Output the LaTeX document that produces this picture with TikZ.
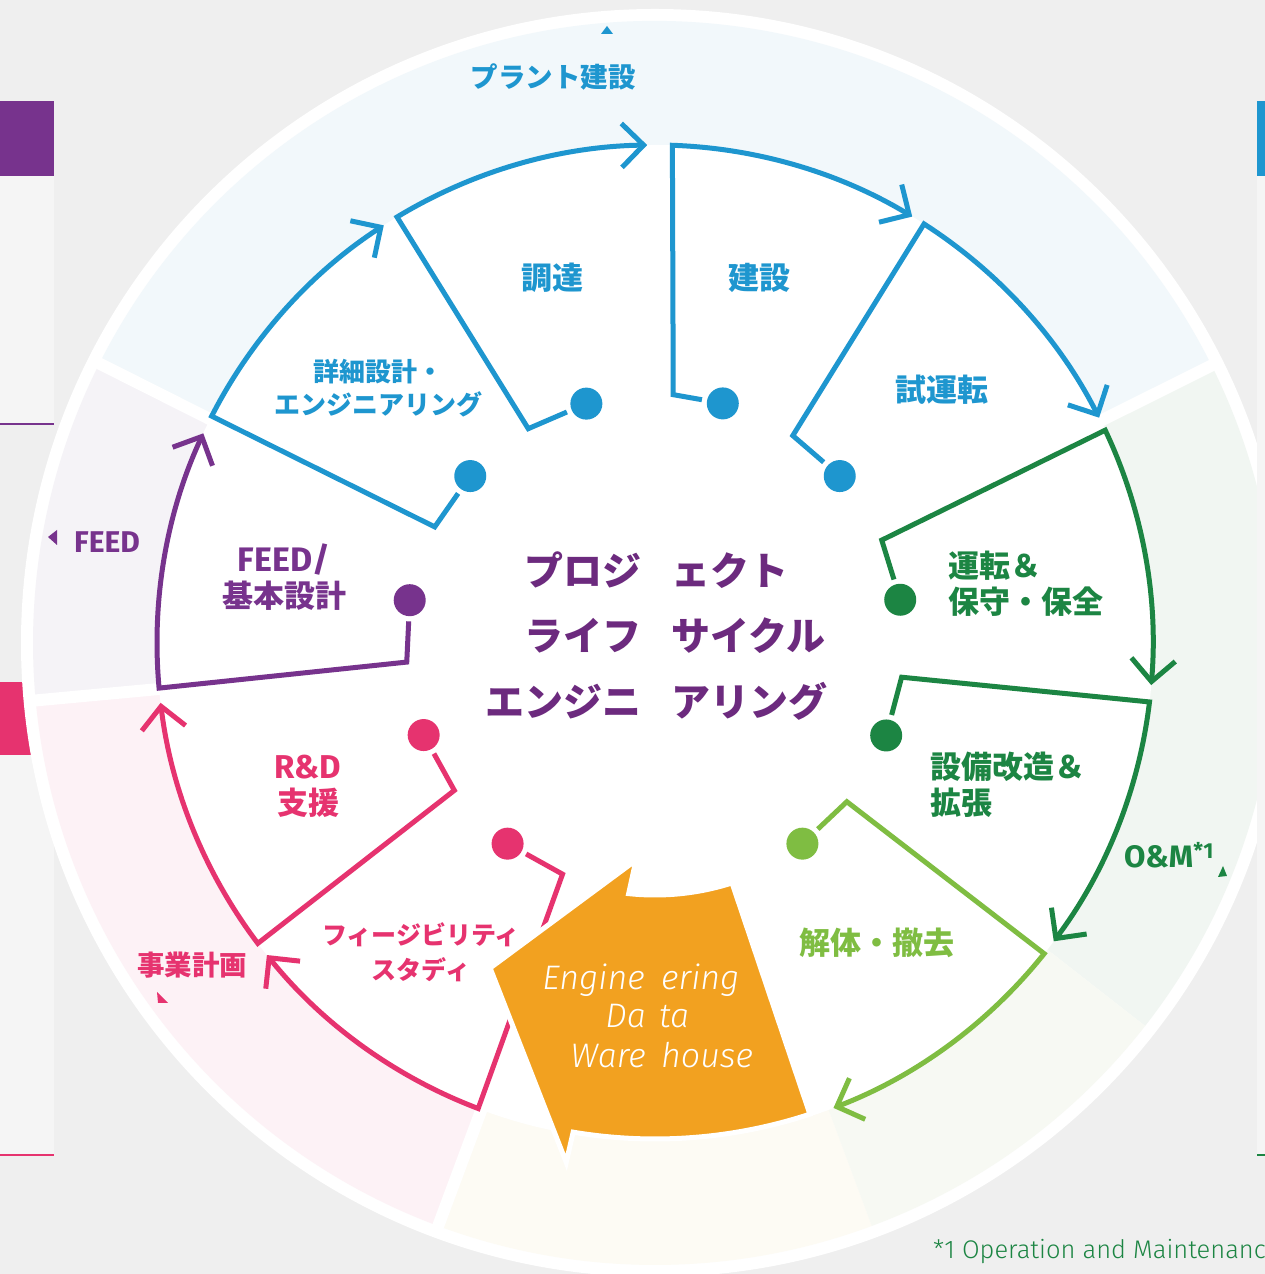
\documentclass[tikz,border=0pt]{standalone}
\usepackage{fontspec}
\newfontfamily\jp{Noto Sans CJK JP}
\newfontfamily\fira{Fira Sans}
\newfontfamily\firalt{Fira Sans}[UprightFont={* Light}, ItalicFont={* Light Italic}]
\usetikzlibrary{arrows.meta}
\definecolor{cblue}{HTML}{1E96CF}
\definecolor{cpur}{HTML}{77338D}
\definecolor{cpurtext}{HTML}{6C2A7E}
\definecolor{cpink}{HTML}{E6336F}
\definecolor{cgreen}{HTML}{1C8543}
\definecolor{clime}{HTML}{7FBD42}
\definecolor{corange}{HTML}{F2A120}
\definecolor{bggray}{HTML}{EFEFEF}
\definecolor{panelc}{HTML}{F5F5F5}
\definecolor{bandblue}{HTML}{F2F8FB}
\definecolor{bandpur}{HTML}{F5F3F7}
\definecolor{bandpink}{HTML}{FDF2F6}
\definecolor{bandcream}{HTML}{FDFBF4}
\definecolor{bandlime}{HTML}{F7F9F3}
\definecolor{bandgreen}{HTML}{F1F6F2}
\begin{document}
\begin{tikzpicture}[x=1pt,y=1pt,
  seg/.style={line width=5pt, line join=miter, line cap=butt},
  tipx/.style={-{Straight Barb[length=22pt,width=44pt,line join=miter,line cap=butt]}},
  dotn/.style={circle, inner sep=0pt, minimum size=32pt},
  jpb/.style={font={\jp\bfseries\fontsize{31}{36}\selectfont}, inner sep=0pt, align=center},
  jps/.style={font={\jp\bfseries\fontsize{26}{33}\selectfont}, inner sep=0pt, align=center},
  jpf/.style={font={\jp\bfseries\fontsize{25}{35}\selectfont}, inner sep=0pt, align=center},
  jpo/.style={font={\jp\bfseries\fontsize{27.5}{32}\selectfont}, inner sep=0pt},
  ctr/.style={font={\jp\bfseries\fontsize{39}{45}\selectfont}, text=cpurtext, inner sep=0pt, text height=34pt, text depth=5pt},
  edw/.style={font={\firalt\itshape\fontsize{34}{38}\selectfont}, text=white, inner sep=0pt}
]
\useasboundingbox (0,0) rectangle (1265,1274);
\fill[bggray] (0,0) rectangle (1265,1274);
% left panels
\fill[panelc] (0,850) rectangle (54,1098);
\fill[cpur] (0,1098) rectangle (54,1173);
\draw[cpur, line width=2pt] (0,850) -- (54,850);
\fill[panelc] (0,119) rectangle (54,519);
\fill[cpink] (0,519) rectangle (54,592);
\draw[cpink, line width=2pt] (0,119) -- (54,119);
% circle
\coordinate (O) at (655,631);
\fill[white] (O) circle[radius=634pt];
\begin{scope}[shift={(O)}]
  \fill[bandgreen] (0,0) -- (-38:622pt) arc[start angle=-38,end angle=26.5,radius=622pt] -- cycle;
  \fill[bandblue] (0,0) -- (26.5:622pt) arc[start angle=26.5,end angle=153.3,radius=622pt] -- cycle;
  \fill[bandpur] (0,0) -- (153.3:622pt) arc[start angle=153.3,end angle=185.3,radius=622pt] -- cycle;
  \fill[bandpink] (0,0) -- (185.3:622pt) arc[start angle=185.3,end angle=249.6,radius=622pt] -- cycle;
  \fill[bandcream] (0,0) -- (249.6:622pt) arc[start angle=249.6,end angle=290.4,radius=622pt] -- cycle;
  \fill[bandlime] (0,0) -- (290.4:622pt) arc[start angle=290.4,end angle=322,radius=622pt] -- cycle;
  \foreach \a in {26.5,153.3,185.3,249.6} \draw[white,line width=12pt] (\a:480pt) -- (\a:627pt);
  \fill[white] (0,0) circle[radius=498pt];
\end{scope}
% right panel
\fill[panelc] (1257,119) rectangle (1265,1098);
\fill[cblue] (1257,1098) rectangle (1265,1173);
\draw[cgreen, line width=2pt] (1257,119) -- (1265,119);
% outer markers
\fill[cblue] (601,1240) -- (613,1240) -- (607,1248) -- cycle;
\fill[cpur] (57,744) -- (57,729) -- (48,737) -- cycle;
\fill[cpink] (157,282) -- (158,271) -- (168,271) -- cycle;
\fill[cgreen] (1218,397) -- (1227,398) -- (1223,408) -- cycle;
% segments
\begin{scope}[shift={(O)}]
\foreach \v/\t/\c/\d/\col/\n in {
  185.2/155.1/184.4/170.1/cpur/1,
  152.9/123.0/152.2/137.9/cblue/2,
  121.2/90.9/120.6/106.0/cblue/3,
  88.0/58.9/85.8/74.2/cblue/4,
  57.3/26.9/56.4/42.1/cblue/5,
  25.3/-4.85/24.4/10.0/cgreen/6,
  -6.8/-36.8/-7.9/-21.8/cgreen/7,
  -38.6/-69.0/-39.6/-53.7/clime/8,
  249.2/218.8/248.2/233.7/cpink/9,
  217.1/186.9/216.3/201.7/cpink/10}{
  \node[dotn, fill=\col] (dot\n) at (\d:249pt) {};
  \coordinate (cor\n) at (\c:249pt);
  \coordinate (ver\n) at (\v:498pt);
  \draw[seg, draw=\col, tipx, shorten <=5pt] (dot\n) -- (cor\n) -- (ver\n) arc[start angle=\v, end angle=\t, radius=498pt];
}
% Engineering Data Warehouse arrow
\filldraw[fill=corange, draw=white, line width=5pt, line join=miter]
  (-72.2:252pt) arc[start angle=-72.2, end angle=-96, radius=252pt]
  -- (-95:218pt) -- (243.1:364.5pt) -- (260.3:527pt) -- (260.5:496pt)
  arc[start angle=260.5, end angle=288.2, radius=496pt] -- cycle;
\end{scope}
% EDW text
\node[edw, anchor=base east] (e1a) at (645,284) {Engine};
\node[edw, anchor=base west] (e1b) at (661,284) {ering};
\node[edw, anchor=base east] (e2a) at (646,246) {Da};
\node[edw, anchor=base west] (e2b) at (659,246) {ta};
\node[edw, anchor=base east] (e3a) at (646,206) {Ware};
\node[edw, anchor=base west] (e3b) at (661,206) {house};
% stage labels
\node[jpb, text=cblue] (tChotatsu) at (552,996) {調達};
\node[jpb, text=cblue] (tKensetsu) at (759,996) {建設};
\node[jps, text=cblue] (tShosai) at (378,885.5) {詳細設計・\\エンジニアリング};
\node[jpb, text=cblue] (tShiunten) at (942,884) {試運転};
\node[jpb, text=cpur] (tFeed) at (284,697) {{\fira\bfseries\fontsize{34}{37}\selectfont FEED/}\\基本設計};
\node[jpb, text=cgreen, anchor=west, align=left] (tUnten) at (948,690) {運転＆\\保守・保全};
\node[jpb, text=cgreen, anchor=west, align=left] (tSetsubi) at (930,489) {設備改造＆\\拡張};
\node[jpb, text=clime] (tKaitai) at (877,331) {解体・撤去};
\node[jpb, text=cpink] (tRD) at (308,488) {{\fira\bfseries\fontsize{33}{36}\selectfont R\&D}\\支援};
\node[jpf, text=cpink] (tFS) at (421,321.5) {フィージビリティ\\スタディ};
% outer labels
\node[jpo, text=cpink] (tJigyo) at (192,309) {事業計画};
\node[jpo, text=cblue] (tPlant) at (553,1197) {プラント建設};
\node[font={\fira\bfseries\fontsize{30}{34}\selectfont}, text=cpur, inner sep=0pt] (tFEEDo) at (107,732) {FEED};
\node[font={\fira\bfseries\fontsize{31}{34}\selectfont}, text=cgreen, inner sep=0pt] (tOM) at (1169,419) {O\&M\textsuperscript{*1}};
% centre title
\node[ctr, anchor=east] (c1a) at (642,703) {プロジ};
\node[ctr, anchor=west] (c1b) at (671,703) {ェクト};
\node[ctr, anchor=east] (c2a) at (642,638) {ライフ};
\node[ctr, anchor=west] (c2b) at (671,638) {サイクル};
\node[ctr, anchor=east] (c3a) at (642,572) {エンジニ};
\node[ctr, anchor=west] (c3b) at (671,572) {アリング};
% footnote
\node[font={\firalt\fontsize{25.5}{28}\selectfont}, text=cgreen, inner sep=0pt, anchor=base west] (fn) at (933,15) {*1 Operation and Maintenanc};
\end{tikzpicture}
\end{document}
